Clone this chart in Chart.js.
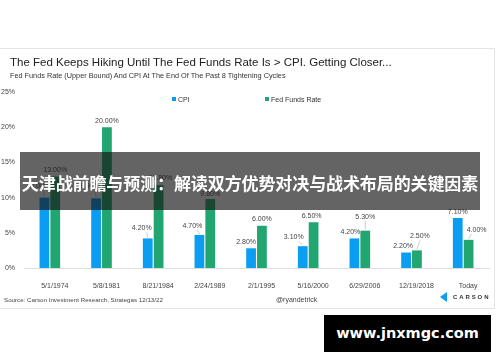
<!DOCTYPE html>
<html>
<head>
<meta charset="utf-8">
<script src="https://cdn.jsdelivr.net/npm/chart.js@4"></script>
<style>
  body { margin: 0; width: 500px; height: 362px; background: #fff; position: relative; overflow: hidden; font-family: "Liberation Sans", Arial, sans-serif; }
  #card { position: absolute; left: -1px; top: 48px; width: 494px; height: 259px; border: 1px solid #e4e4e4; }
  #wrap { position: absolute; left: 0; top: 0; width: 500px; height: 362px; }
  .txt { position: absolute; white-space: nowrap; color: #222; }
  #title { left: 10px; top: 56px; font-size: 11.5px; }
  #sub { left: 10px; top: 71px; font-size: 7.3px; color: #333; }
  .leg { position: absolute; top: 96px; font-size: 7px; color: #333; }
  .leg i { display: inline-block; width: 4px; height: 4px; margin-right: 2px; vertical-align: 1px; }
  #src { left: 4px; top: 296px; font-size: 6.2px; color: #444; }
  #handle { left: 276px; top: 296px; font-size: 7px; color: #444; }
  #logo { left: 440px; top: 292px; font-size: 6px; color: #333; letter-spacing: 1.9px; font-weight: bold; }
  #logo b { display: inline-block; width: 0; height: 0; border-top: 5px solid transparent; border-bottom: 5px solid transparent; border-right: 7px solid #0a9df2; vertical-align: -3px; margin-right: 6px; }
  #band { position: absolute; left: 20px; top: 152px; width: 460px; height: 58px; background: rgba(20,20,20,0.66); }
  #bandtxt { position: absolute; left: 20px; top: 171px; width: 460px; text-align: center; color: #fff; font: bold 17px "Noto Sans CJK SC", sans-serif; line-height: 24px; letter-spacing: -0.1px; }
  #wm { position: absolute; left: 324px; top: 315px; width: 167px; height: 37px; background: #000; color: #fff; font: bold 14.5px "DejaVu Sans", sans-serif; text-align: center; line-height: 37px; }
</style>
</head>
<body>
<div id="card"></div>
<div id="wrap"><canvas id="chart" width="500" height="362"></canvas></div>
<div class="txt" id="title">The Fed Keeps Hiking Until The Fed Funds Rate Is &gt; CPI. Getting Closer...</div>
<div class="txt" id="sub">Fed Funds Rate (Upper Bound) And CPI At The End Of The Past 8 Tightening Cycles</div>
<div class="leg" style="left:172px"><i style="background:#0a9df2"></i>CPI</div>
<div class="leg" style="left:265px"><i style="background:#21a671"></i>Fed Funds Rate</div>
<div class="txt" id="src">Source: Carson Investment Research, Strategas 12/13/22</div>
<div class="txt" id="handle">@ryandetrick</div>
<div class="txt" id="logo"><b></b>CARSON</div>
<div id="band"></div>
<div id="bandtxt">天津战前瞻与预测：解读双方优势对决与战术布局的关键因素</div>
<div id="wm">www.jnxmgc.com</div>

<script>
// Dates of the end of each tightening cycle
const cycles = ['5/1/1974', '5/8/1981', '8/21/1984', '2/24/1989', '2/1/1995', '5/16/2000', '6/29/2006', '12/19/2018', 'Today'];
const cpi = [10.0, 9.9, 4.2, 4.7, 2.8, 3.1, 4.2, 2.2, 7.1];
const fedFunds = [13.0, 20.0, 11.8, 9.8, 6.0, 6.5, 5.3, 2.5, 4.0];
const yTicks = [0, 5, 10, 15, 20, 25];

// where each value label sits relative to its bar top [dx, dy]
const cpiLabelPos = [[-6, 12], [-6, 12], [-6, 10], [-7, 9], [-5, 6], [-9, 9], [-4, 6], [-3, 6], [0, 6]];
const ffrLabelPos = [[0, 6], [0, 6], [2, 7], [0, 5], [0, 7], [-2, 6], [0, 14], [3, 14], [8, 10]];

const valueLabels = {
  id: 'valueLabels',
  afterDatasetsDraw(chart) {
    const ctx = chart.ctx;
    ctx.save();
    ctx.font = '7px "Liberation Sans", Arial, sans-serif';
    ctx.textAlign = 'center';
    ctx.textBaseline = 'middle';
    [cpiLabelPos, ffrLabelPos].forEach((pos, di) => {
      const meta = chart.getDatasetMeta(di);
      const data = chart.data.datasets[di].data;
      meta.data.forEach((bar, i) => {
        const [dx, dy] = pos[i];
        const lx = bar.x + dx, ly = bar.y - dy;
        // leader line when the label is pushed away from its bar
        if (dy > 8 || Math.abs(dx) > 4) {
          ctx.strokeStyle = '#aaa';
          ctx.lineWidth = 0.6;
          ctx.beginPath();
          ctx.moveTo(lx + (dx < 0 ? 5 : dx > 4 ? -5 : 0), ly + 4);
          ctx.lineTo(bar.x, bar.y - 1);
          ctx.stroke();
        }
        ctx.fillStyle = '#444';
        ctx.fillText(data[i].toFixed(2) + '%', lx, ly);
      });
    });
    ctx.restore();
  }
};

new Chart(document.getElementById('chart'), {
  type: 'bar',
  data: {
    labels: cycles,
    datasets: [
      { label: 'CPI', data: cpi, backgroundColor: '#0a9df2' },
      { label: 'Fed Funds Rate', data: fedFunds, backgroundColor: '#21a671' }
    ]
  },
  options: {
    responsive: false,
    animation: false,
    layout: { padding: { left: 0, right: 11, top: 92, bottom: 0 } },
    datasets: { bar: { categoryPercentage: 0.42, barPercentage: 0.9 } },
    plugins: { legend: { display: false }, tooltip: { enabled: false } },
    scales: {
      x: {
        grid: { display: false },
        border: { color: '#ddd' },
        afterFit(s) { s.height = 94; },
        ticks: { color: '#444', font: { size: 7, family: '"Liberation Sans", Arial, sans-serif' }, padding: 6, labelOffset: 5, maxRotation: 0 }
      },
      y: {
        min: 0, max: 25,
        afterFit(s) { s.width = 24; },
        afterBuildTicks(s) { s.ticks = yTicks.map(v => ({ value: v })); },
        grid: { display: false },
        border: { display: false },
        ticks: { color: '#444', padding: 1, font: { size: 7, family: '"Liberation Sans", Arial, sans-serif' }, callback: v => v + '%' }
      }
    }
  },
  plugins: [valueLabels]
});
</script>
</body>
</html>
